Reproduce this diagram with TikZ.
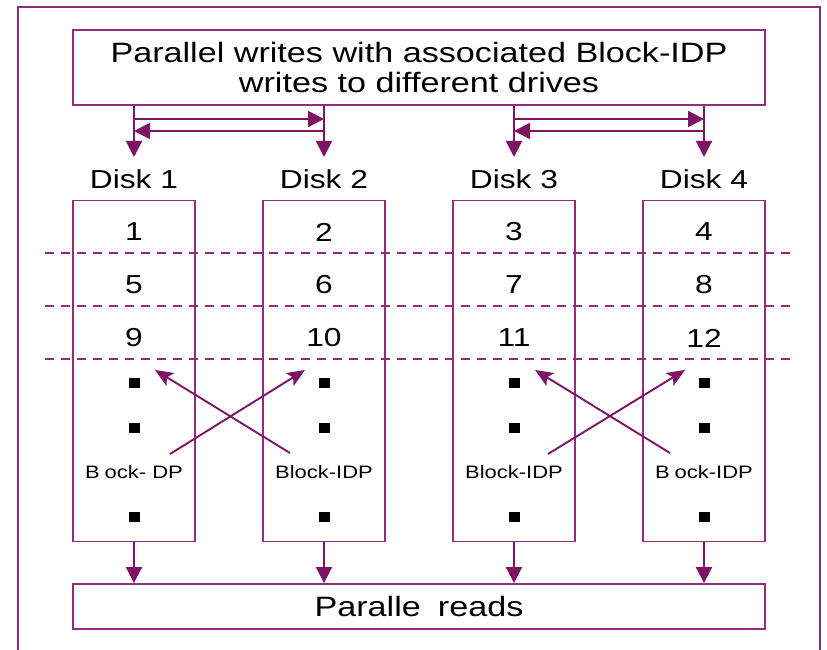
\documentclass[tikz,border=0pt]{standalone}
\usepackage{fontspec}
\setmainfont[FakeStretch=1.22]{Liberation Sans}
\usetikzlibrary{arrows.meta}
\definecolor{framec}{RGB}{145,45,125}
\definecolor{arrowc}{RGB}{125,20,100}

\begin{document}
\begin{tikzpicture}[x=1pt,y=-1pt,
  box/.style={draw=framec, line width=1.9pt, inner sep=0pt},
  flow/.style={draw=arrowc, line width=2pt, -{Triangle[length=16pt,width=16pt]}},
  cross/.style={draw=arrowc, line width=1.9pt, -{Stealth[length=18pt,width=15pt,inset=4pt]}},
  sep/.style={draw=framec, line width=1.6pt, dash pattern=on 9pt off 7pt},
  blk/.style={fill=black, minimum width=11pt, minimum height=10pt, inner sep=0pt},
  big/.style={font=\fontsize{28}{30}\selectfont},
  mid/.style={font=\fontsize{26}{28}\selectfont, inner sep=0pt},
  small/.style={font=\fontsize{18}{20}\selectfont, inner sep=0pt}]

\useasboundingbox (0,0) rectangle (827,650);

% outer frame (open at the bottom edge)
\draw[box] (18,650) -- (18,7) -- (820,7) -- (820,650);

% writing box
\node[box, big, align=center, minimum width=692pt, minimum height=75pt] (top) at (419,67.5)
  {Parallel writes with associated Block-IDP\\writes to different drives};

% reading box
\node[box, big, minimum width=692pt, minimum height=45pt] (bot) at (419,606.5)
  {Paralle\phantom{l} reads};

% disks
\foreach \i/\x in {1/134, 2/324, 3/514, 4/704} {
  \node[box, minimum width=122pt, minimum height=341pt] (d\i) at (\x,371) {};
  \node[mid] (lab\i) at (\x,179) {Disk \i};
  \node[blk] (sa\i) at (\x,383) {};
  \node[blk] (sb\i) at (\x,428) {};
  \node[blk] (sc\i) at (\x,517) {};
  \coordinate (e\i) at (\x,157);
  \draw[flow] (top.south -| e\i) -- (e\i);
  \draw[flow] (d\i.south) -- (d\i.south |- bot.north);
}

% stripe numbers
\foreach \i/\x in {1/134, 2/324, 3/514, 4/704} {
  \pgfmathtruncatemacro{\na}{\i}
  \pgfmathtruncatemacro{\nb}{\i+4}
  \pgfmathtruncatemacro{\nc}{\i+8}
  \node[mid] (na\i) at (\x,232) {\na};
  \node[mid] (nb\i) at (\x,285) {\nb};
  \node[mid] (nc\i) at (\x,338) {\nc};
}

% stripe separators
\foreach \y in {253, 306, 359}
  \draw[sep] (45,\y) -- (792,\y);

% Block-IDP labels
\node[small] (p1) at (134,472) {B\phantom{l}ock-\phantom{I}DP};
\node[small] (p2) at (324,472) {Block-IDP};
\node[small] (p3) at (514,472) {Block-IDP};
\node[small] (p4) at (704,472) {B\phantom{l}ock-IDP};

% exchange arrows between paired disks
\coordinate (r1) at (134,119); \coordinate (r2) at (324,119);
\coordinate (q1) at (134,131); \coordinate (q2) at (324,131);
\coordinate (r3) at (514,119); \coordinate (r4) at (704,119);
\coordinate (q3) at (514,131); \coordinate (q4) at (704,131);
\draw[flow] (r1) -- (r2);
\draw[flow] (q2) -- (q1);
\draw[flow] (r3) -- (r4);
\draw[flow] (q4) -- (q3);

% crossing arrows from Block-IDP to the partner disk
\coordinate (xa1) at (290,453); \coordinate (xa2) at (155,370);
\coordinate (xb1) at (170,454); \coordinate (xb2) at (305,370);
\coordinate (xc1) at (670,453); \coordinate (xc2) at (535,370);
\coordinate (xd1) at (548,454); \coordinate (xd2) at (685,370);
\draw[cross] (xa1) -- (xa2);
\draw[cross] (xb1) -- (xb2);
\draw[cross] (xc1) -- (xc2);
\draw[cross] (xd1) -- (xd2);
\end{tikzpicture}
\end{document}
